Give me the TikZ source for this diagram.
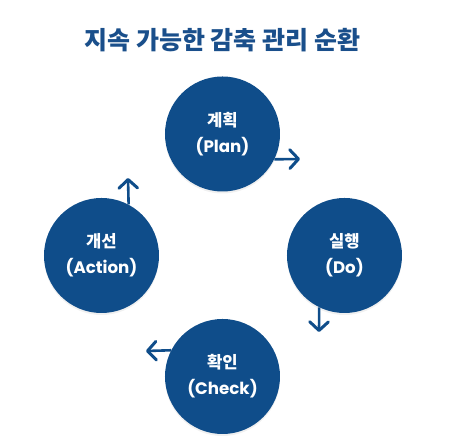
\documentclass[tikz,border=0pt]{standalone}
\usepackage{fontspec}
\usetikzlibrary{arrows.meta,shadows}
\newfontfamily\krfont{Noto Sans CJK KR}
\newfontfamily\latfont{Poppins}
\definecolor{cycblue}{HTML}{0F4D8A}
\definecolor{titleblue}{HTML}{1A4F8B}
\begin{document}
\begin{tikzpicture}[x=0.75pt,y=-0.75pt,
    stage/.style={circle,fill=cycblue,minimum size=115*0.75pt,inner sep=0pt,
      text=white,align=center,font=\fontsize{12.5}{19.5}\selectfont,
      drop shadow={opacity=0.12,shadow xshift=0pt,shadow yshift=-1.5pt}},
    cyc/.style={draw=cycblue,line width=2.6*0.75pt,
      -{Straight Barb[length=6.5pt,width=14pt,line width=3*0.75pt,line cap=round,line join=round]}}]
      \useasboundingbox (0,0) rectangle (455,448);
      %titolo
      \node[text=titleblue,font=\krfont\bfseries\fontsize{18.75}{20}\selectfont] (title) at (222.5,40) {지속 가능한 감축 관리 순환};
      %cerchi
      \node[stage] (plan) at (222.5,134) {{\krfont\bfseries 계획}\\{\latfont\bfseries (Plan)}};
      \node[stage] (do) at (344.5,255.5) {{\krfont\bfseries 실행}\\{\latfont\bfseries (Do)}};
      \node[stage] (check) at (222.5,376.5) {{\krfont\bfseries 확인}\\{\latfont\bfseries (Check)}};
      \node[stage] (act) at (101.5,255.5) {{\krfont\bfseries 개선}\\{\latfont\bfseries (Action)}};
      %frecce
      \coordinate (planend) at (300,159);
      \coordinate (doend) at (319,332);
      \coordinate (checkend) at (146,351);
      \coordinate (actend) at (128,178);
      \draw[cyc] (plan.-26) -- (planend);
      \draw[cyc] (do.-116.6) -- (doend);
      \draw[cyc] (check.153.4) -- (checkend);
      \draw[cyc] (act.62.3) -- (actend);
    \end{tikzpicture}
\end{document}
